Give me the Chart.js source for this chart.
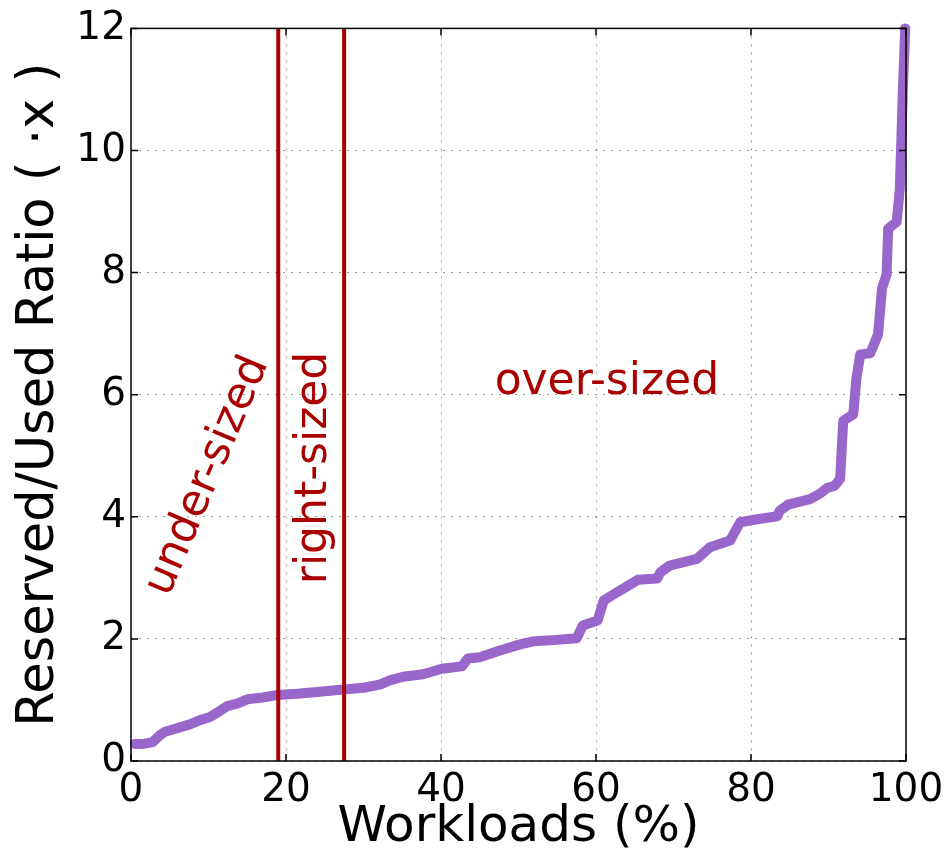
<!DOCTYPE html>
<html>
<head>
<meta charset="utf-8">
<script src="https://cdn.jsdelivr.net/npm/chart.js@4.4.0/dist/chart.umd.min.js"></script>
<style>
  html, body { margin: 0; padding: 0; background: #fff; }
  #wrap { width: 950px; height: 854px; }
</style>
</head>
<body>
<div id="wrap"><canvas id="ratio-chart"></canvas></div>
<script>
// workloads (%) sorted by reserved/used ratio
const workloadPct = [0.5, 1.6, 2.8, 3.7, 4.4, 6.3, 7.6, 8.9, 10.2, 11.2, 12.4, 13.7, 15, 17, 18.8,
    21.4, 24, 27.4, 30, 32.1, 33.4, 35.1, 37.7, 40.1, 42.7, 43.5, 45, 47.6, 50.2, 51.9, 54.5,
    57.5, 58.3, 60.2, 61, 62.4, 64, 65.4, 67.9, 68.3, 69.5, 73, 74.7, 77.3, 78.6, 80.8, 83.4,
    83.7, 84.8, 87.6, 88.9, 89.8, 90.8, 91.5, 91.9, 93.2, 93.6, 94.1, 95.4, 96.4, 96.9, 97.5,
    97.7, 98.8, 99.2, 99.6, 99.9];
const reservedUsed = [0.28, 0.28, 0.31, 0.42, 0.48, 0.55, 0.60, 0.67, 0.72, 0.80, 0.90, 0.94, 1.01, 1.04, 1.08,
    1.10, 1.13, 1.17, 1.20, 1.25, 1.32, 1.38, 1.42, 1.51, 1.55, 1.68, 1.70, 1.81, 1.91, 1.96, 1.98,
    2.01, 2.22, 2.30, 2.63, 2.74, 2.86, 2.97, 2.99, 3.09, 3.20, 3.31, 3.50, 3.61, 3.91, 3.96, 4.01,
    4.10, 4.20, 4.29, 4.38, 4.47, 4.51, 4.62, 5.57, 5.68, 6.27, 6.66, 6.68, 6.99, 7.74, 7.97,
    8.72, 8.83, 9.37, 11.0, 12.0];

// boundaries between under-, right- and over-sized
const boundaryPct = [19, 27.5];

const xTicks = [0, 20, 40, 60, 80, 100];
const yTicks = [0, 2, 4, 6, 8, 10, 12];

const labels = [
    { text: 'under-sized', x: 9.9, y: 4.67, angle: -67 },
    { text: 'right-sized', x: 23.7, y: 4.8, angle: -90 },
    { text: 'over-sized', x: 61.4, y: 6.2, angle: 0 }
];

const FONT = "'DejaVu Sans', 'Liberation Sans', sans-serif";
const RED = '#aa0000';
const PURPLE = '#9966cc';

const frameAndLabels = {
    id: 'frameAndLabels',
    afterDatasetsDraw(chart) {
        const { ctx, chartArea: a, scales } = chart;
        ctx.save();
        // region labels
        ctx.fillStyle = RED;
        ctx.font = '44px ' + FONT;
        ctx.textAlign = 'center';
        ctx.textBaseline = 'middle';
        labels.forEach(l => {
            ctx.save();
            ctx.translate(scales.x.getPixelForValue(l.x), scales.y.getPixelForValue(l.y));
            ctx.rotate(l.angle * Math.PI / 180);
            ctx.fillText(l.text, 0, 0);
            ctx.restore();
        });
        // box and inner ticks
        ctx.strokeStyle = '#000';
        ctx.lineWidth = 1.5;
        ctx.strokeRect(a.left, a.top, a.right - a.left, a.bottom - a.top);
        ctx.beginPath();
        xTicks.forEach(v => {
            const px = scales.x.getPixelForValue(v);
            ctx.moveTo(px, a.bottom); ctx.lineTo(px, a.bottom - 7);
            ctx.moveTo(px, a.top); ctx.lineTo(px, a.top + 7);
        });
        yTicks.forEach(v => {
            const py = scales.y.getPixelForValue(v);
            ctx.moveTo(a.left, py); ctx.lineTo(a.left + 7, py);
            ctx.moveTo(a.right, py); ctx.lineTo(a.right - 7, py);
        });
        ctx.stroke();
        ctx.restore();
    }
};

const gridStyle = {
    color: 'rgba(0,0,0,0.38)',
    lineWidth: 1,
    drawTicks: false
};

new Chart(document.getElementById('ratio-chart'), {
    type: 'line',
    data: {
        datasets: [
            ...boundaryPct.map(b => ({
                data: [{ x: b, y: 0 }, { x: b, y: 12 }],
                borderColor: RED,
                borderWidth: 4,
                pointRadius: 0,
                order: 0
            })),
            {
                data: workloadPct.map((x, i) => ({ x, y: reservedUsed[i] })),
                borderColor: PURPLE,
                borderWidth: 10,
                borderJoinStyle: 'round',
                borderCapStyle: 'round',
                pointRadius: 0,
                tension: 0,
                clip: 8,
                order: 1
            }
        ]
    },
    options: {
        responsive: true,
        maintainAspectRatio: false,
        animation: false,
        layout: { padding: { top: 26, right: 44, left: 0, bottom: 0 } },
        plugins: { legend: { display: false }, tooltip: { enabled: false } },
        scales: {
            x: {
                type: 'linear',
                min: 0,
                max: 100,
                afterFit: s => { s.height = 93; },
                afterBuildTicks: s => { s.ticks = xTicks.map(v => ({ value: v })); },
                grid: gridStyle,
                border: { display: false, dash: [2, 6] },
                ticks: { color: '#000', font: { family: FONT, size: 39 }, padding: 6, maxRotation: 0 },
                title: {
                    display: true,
                    text: 'Workloads (%)',
                    color: '#000',
                    font: { family: FONT, size: 50, lineHeight: 1 },
                    padding: { top: 0, bottom: 1 }
                }
            },
            y: {
                min: 0,
                max: 12,
                afterFit: s => { s.width = 131; },
                afterBuildTicks: s => { s.ticks = yTicks.map(v => ({ value: v })); },
                grid: gridStyle,
                border: { display: false, dash: [2, 6] },
                ticks: { color: '#000', font: { family: FONT, size: 39 }, padding: 5 },
                title: {
                    display: true,
                    text: 'Reserved/Used Ratio ( ·x )',
                    color: '#000',
                    font: { family: FONT, size: 51, lineHeight: 1 },
                    padding: { top: 14, bottom: 0 }
                }
            }
        }
    },
    plugins: [frameAndLabels]
});
</script>
</body>
</html>
